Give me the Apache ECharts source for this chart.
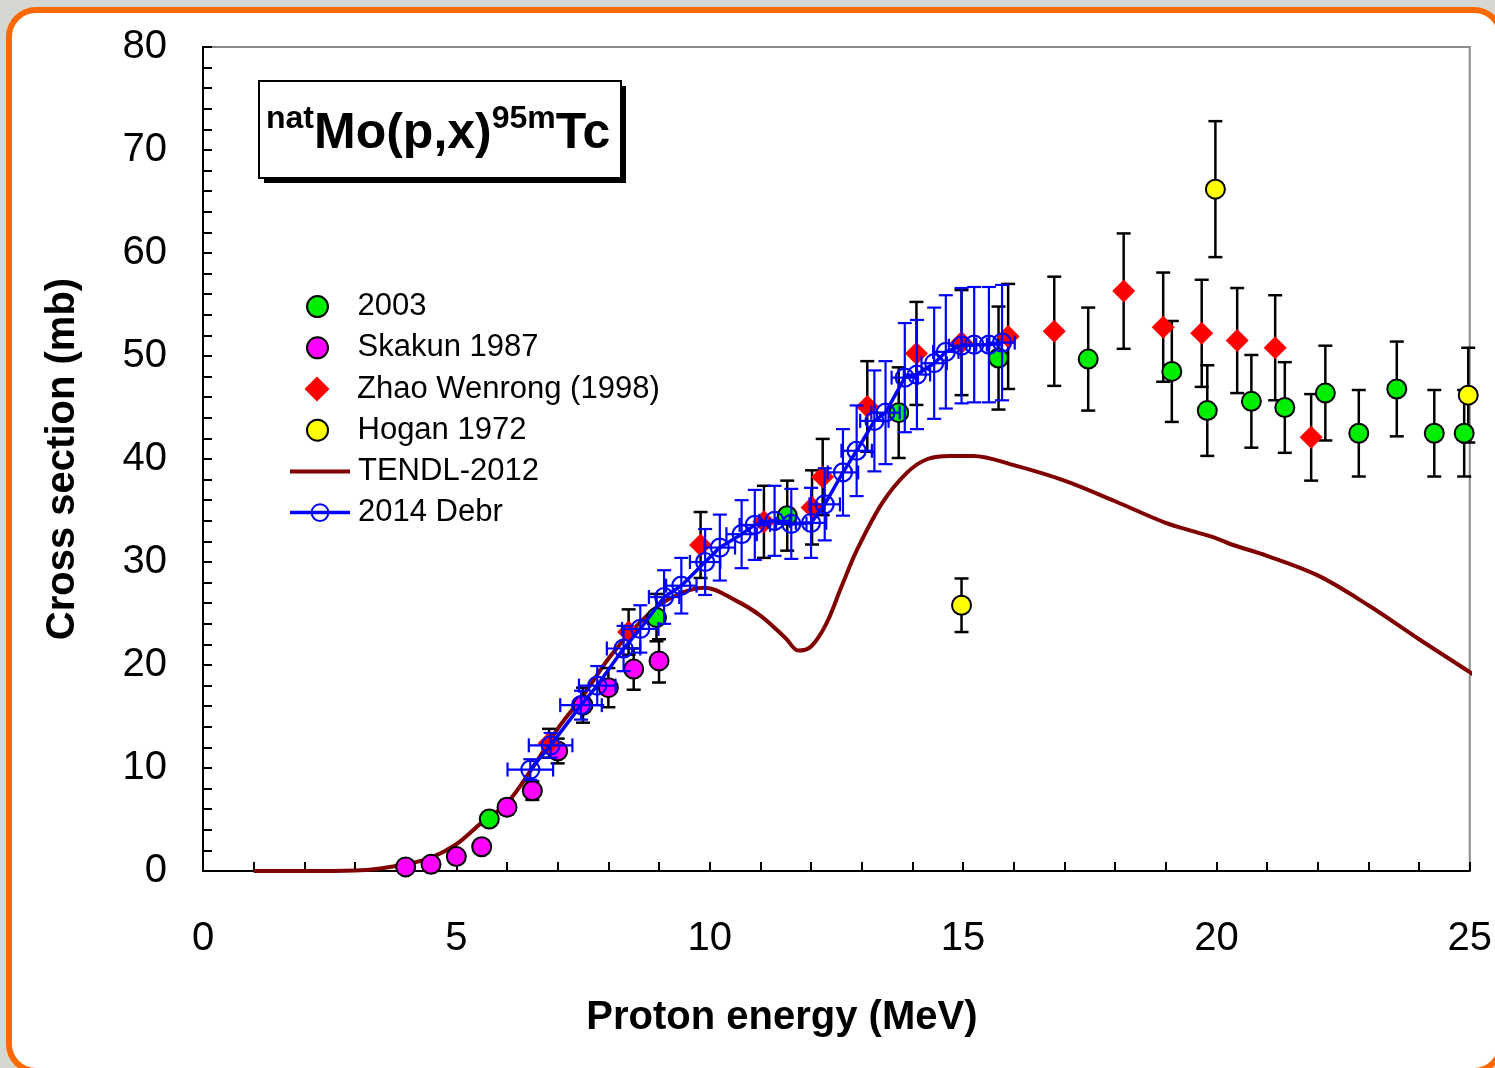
<!DOCTYPE html>
<html><head><meta charset="utf-8">
<script src="https://cdn.jsdelivr.net/npm/echarts@6/dist/echarts.min.js"></script>
<style>
html,body{margin:0;padding:0;width:1495px;height:1068px;overflow:hidden;background:#d5d7d3;}
#frame{position:absolute;left:6px;top:7px;width:1486px;height:1055px;border:6px solid #ff6a00;border-radius:30px;background:#fff;}
#chart{position:absolute;left:0;top:0;width:1495px;height:1068px;}
</style></head><body>
<div id="frame"></div><div id="chart"></div>
<script>
// ---- data ----
const energy2003 = [5.65, 8.95, 11.53, 13.73, 15.70, 17.47, 19.12, 19.82, 20.69, 21.35, 22.15, 22.81, 23.56, 24.30, 24.89];
const sigma2003  = [5.05, 24.6, 34.5, 44.5, 49.8, 49.7, 48.5, 44.7, 45.6, 45.0, 46.4, 42.5, 46.8, 42.5, 42.5];
const err2003    = [0.4, 2.3, 3.4, 4.4, 5.0, 5.0, 4.9, 4.4, 4.5, 4.4, 4.6, 4.2, 4.6, 4.2, 4.2];

const energySkakun = [4.0, 4.5, 5.0, 5.5, 6.0, 6.5, 7.0, 7.5, 8.0, 8.5, 9.0];
const sigmaSkakun  = [0.4, 0.65, 1.4, 2.35, 6.2, 7.8, 11.65, 16.1, 17.8, 19.6, 20.4];
const errSkakun    = [0.05, 0.07, 0.15, 0.25, 0.7, 0.9, 1.2, 1.7, 1.9, 2.0, 2.1];

const energyZhao = [6.83, 8.40, 9.82, 11.07, 12.02, 12.23, 13.11, 14.08, 14.97, 15.89, 16.80, 18.17, 18.95, 19.71, 20.41, 21.16, 21.87];
const sigmaZhao  = [12.4, 23.2, 31.65, 33.9, 35.3, 38.25, 45.1, 50.25, 51.3, 51.9, 52.4, 56.3, 52.8, 52.2, 51.5, 50.8, 42.1];
const errZhao    = [1.4, 2.2, 3.2, 3.5, 3.6, 3.7, 4.4, 5.0, 5.1, 5.1, 5.3, 5.6, 5.3, 5.2, 5.1, 5.1, 4.2];

const energyHogan = [14.97, 19.98, 24.97];
const sigmaHogan  = [25.8, 66.2, 46.2];
const errHogan    = [2.6, 6.6, 4.6];

const energyTendl = [1.0, 2.0, 3.0, 3.5, 4.0, 4.5, 5.0, 5.5, 6.0, 6.5, 7.0, 7.5, 8.0, 8.5, 9.0, 9.5, 9.9, 10.5, 11.0, 11.5, 11.75, 12.0, 12.3, 12.6, 12.9, 13.4, 13.9, 14.3, 14.75, 15.2, 16.0, 17.0, 18.0, 19.0, 19.6, 20.0, 20.3, 21.0, 22.0, 23.0, 24.0, 25.0, 25.25];
const sigmaTendl  = [0.0, 0.0, 0.05, 0.25, 0.65, 1.3, 2.6, 4.7, 6.6, 10.0, 13.8, 17.0, 20.6, 23.5, 25.8, 27.1, 27.5, 26.3, 24.8, 22.6, 21.4, 21.8, 24.0, 27.6, 31.1, 35.7, 38.7, 40.0, 40.3, 40.3, 39.4, 37.9, 35.9, 33.8, 32.9, 32.3, 31.7, 30.6, 28.7, 25.8, 22.5, 19.3, 18.4];

const energyDebr = [6.46, 6.86, 7.46, 7.78, 8.30, 8.63, 9.10, 9.44, 9.91, 10.20, 10.63, 10.89, 11.28, 11.61, 12.00, 12.27, 12.63, 12.90, 13.25, 13.47, 13.85, 14.09, 14.43, 14.66, 14.97, 15.22, 15.51, 15.77];
const sigmaDebr  = [9.85, 12.2, 16.1, 18.0, 21.6, 23.5, 26.6, 27.7, 30.0, 31.4, 32.7, 33.6, 34.0, 33.7, 33.8, 35.6, 38.7, 40.8, 43.7, 44.5, 47.9, 48.2, 49.3, 50.4, 51.0, 51.1, 51.1, 51.3];
const errDebr    = [1.0, 1.2, 1.4, 1.9, 2.2, 2.3, 2.6, 2.7, 3.2, 3.2, 3.3, 3.4, 3.4, 3.4, 3.4, 3.5, 4.2, 4.4, 4.9, 5.0, 5.3, 5.3, 5.4, 5.5, 5.6, 5.6, 5.6, 5.6];
const xErrDebr   = [0.45, 0.43, 0.41, 0.36, 0.33, 0.36, 0.3, 0.3, 0.3, 0.3, 0.3, 0.3, 0.3, 0.3, 0.3, 0.3, 0.3, 0.3, 0.28, 0.28, 0.26, 0.26, 0.25, 0.25, 0.25, 0.25, 0.25, 0.25];

const xTickValues = [0, 5, 10, 15, 20, 25];
const yTickValues = [0, 10, 20, 30, 40, 50, 60, 70, 80];

// ---- helpers ----
const FONT = "'Liberation Sans', Arial, sans-serif";
const pairs = (xs, ys) => xs.map((x, i) => [x, ys[i]]);
const errRows = (xs, ys, es, exs) => xs.map((x, i) => [x, ys[i], es[i], exs ? exs[i] : 0]);

function makeErrorRender(color, lw) {
  return function (params, api) {
    const x = api.value(0), y = api.value(1), ey = api.value(2), ex = api.value(3) || 0;
    const style = { stroke: color, lineWidth: lw, fill: null };
    const cap = 7;
    const hi = api.coord([x, y + ey]), lo = api.coord([x, y - ey]);
    const ch = [
      { type: 'line', shape: { x1: hi[0], y1: hi[1], x2: lo[0], y2: lo[1] }, style },
      { type: 'line', shape: { x1: hi[0] - cap, y1: hi[1], x2: hi[0] + cap, y2: hi[1] }, style },
      { type: 'line', shape: { x1: lo[0] - cap, y1: lo[1], x2: lo[0] + cap, y2: lo[1] }, style }
    ];
    if (ex > 0) {
      const l = api.coord([x - ex, y]), r = api.coord([x + ex, y]);
      ch.push(
        { type: 'line', shape: { x1: l[0], y1: l[1], x2: r[0], y2: r[1] }, style },
        { type: 'line', shape: { x1: l[0], y1: l[1] - cap, x2: l[0], y2: l[1] + cap }, style },
        { type: 'line', shape: { x1: r[0], y1: r[1] - cap, x2: r[0], y2: r[1] + cap }, style }
      );
    }
    return { type: 'group', children: ch };
  };
}
function errSeries(rows, color, lw) {
  return {
    type: 'custom', dimensions: ['x', 'y', 'ey', 'ex'], encode: { x: 'x', y: 'y' },
    data: rows, renderItem: makeErrorRender(color, lw), clip: false, silent: true, z: 2
  };
}

const chart = echarts.init(document.getElementById('chart'), null, { renderer: 'canvas' });

const axisCommon = {
  axisLine: { show: true, onZero: false, lineStyle: { color: '#000', width: 2 } },
  axisTick: { show: true, inside: true, length: 9, lineStyle: { color: '#000', width: 2 } },
  minorTick: { show: true, splitNumber: 5, length: 9, lineStyle: { color: '#000', width: 2 } },
  splitLine: { show: false },
  minorSplitLine: { show: false }
};

const legendText = { fontFamily: FONT, fontSize: 31, color: '#000', lineHeight: 41.2 };
const ROW = 41.2, LTOP = 286;

const option = {
  animation: false,
  backgroundColor: 'transparent',
  textStyle: { fontFamily: FONT },
  grid: { left: 203, top: 47, right: 20, bottom: 197, show: true, borderColor: '#8a8a8a', borderWidth: 2, backgroundColor: 'transparent' },
  xAxis: Object.assign({}, axisCommon, {
    type: 'value', min: 0, max: 25, interval: 5,
    name: 'Proton energy (MeV)', nameLocation: 'middle', nameGap: 127,
    nameTextStyle: { fontFamily: FONT, fontSize: 40, fontWeight: 'bold', color: '#000', padding: [0, 109, 0, 0] },
    axisLabel: { fontFamily: FONT, fontSize: 40, color: '#000', margin: 48,
      formatter: v => xTickValues.includes(v) ? String(v) : '' }
  }),
  yAxis: Object.assign({}, axisCommon, {
    type: 'value', min: 0, max: 80, interval: 10,
    name: 'Cross section (mb)', nameLocation: 'middle', nameGap: 120,
    nameTextStyle: { fontFamily: FONT, fontSize: 40, fontWeight: 'bold', color: '#000' },
    axisLabel: { fontFamily: FONT, fontSize: 40, color: '#000', margin: 36,
      formatter: v => yTickValues.includes(v) ? String(v) : '' }
  }),
  legend: [
    {
      orient: 'vertical', left: 306, top: LTOP, padding: 0, itemWidth: 22, itemHeight: 21, itemGap: 0,
      selectedMode: false,
      data: ['2003', 'Skakun 1987'],
      textStyle: Object.assign({ padding: [0, 0, 0, 24] }, legendText)
    },
    {
      orient: 'vertical', left: 304.5, top: LTOP + 2 * ROW, padding: 0, itemWidth: 25, itemHeight: 25, itemGap: 0,
      selectedMode: false,
      data: [{ name: 'Zhao Wenrong (1998)', icon: 'path://M11,0L22,11L11,22L0,11Z' }],
      textStyle: Object.assign({ padding: [0, 0, 0, 22.5] }, legendText)
    },
    {
      orient: 'vertical', left: 306, top: LTOP + 3 * ROW, padding: 0, itemWidth: 22, itemHeight: 21, itemGap: 0,
      selectedMode: false,
      data: ['Hogan 1972'],
      textStyle: Object.assign({ padding: [0, 0, 0, 24] }, legendText)
    },
    {
      orient: 'vertical', left: 288, top: LTOP + 4 * ROW, padding: 0, itemWidth: 60, itemHeight: 21, itemGap: 0,
      selectedMode: false,
      data: [
        { name: 'TENDL-2012', itemStyle: { color: 'rgba(0,0,0,0)', borderWidth: 0 }, lineStyle: { color: '#800000', width: 4 } },
        { name: '2014 Debr', lineStyle: { color: '#0000ff', width: 3.5 } }
      ],
      textStyle: Object.assign({ padding: [0, 0, 0, 3] }, legendText)
    }
  ],
  graphic: [
    { type: 'rect', left: 264, top: 86, shape: { width: 362, height: 97 }, style: { fill: '#000' }, z: 100 },
    { type: 'rect', left: 258, top: 80, shape: { width: 362, height: 97 }, style: { fill: '#fff', stroke: '#000', lineWidth: 2 }, z: 101 },
    { type: 'text', x: 266, y: 103, z: 102,
      style: {
        text: '{s|nat}{m|Mo(p,x)}{s|95m}{m|Tc}',
        verticalAlign: 'top', align: 'left',
        rich: {
          s: { fontFamily: FONT, fontSize: 32, fontWeight: 'bold', fill: '#000', lineHeight: 20, verticalAlign: 'top' },
          m: { fontFamily: FONT, fontSize: 50, fontWeight: 'bold', fill: '#000', lineHeight: 56, verticalAlign: 'bottom' }
        }
      }
    }
  ],
  series: [
    { name: 'TENDL-2012', type: 'line', data: pairs(energyTendl, sigmaTendl), showSymbol: false, symbol: 'none',
      smooth: 0.35, clip: false, z: 1,
      lineStyle: { color: '#800000', width: 4 }, itemStyle: { color: '#800000' } },
    errSeries(errRows(energy2003, sigma2003, err2003), '#000', 2.5),
    errSeries(errRows(energySkakun, sigmaSkakun, errSkakun), '#000', 2.5),
    errSeries(errRows(energyZhao, sigmaZhao, errZhao), '#000', 2.5),
    errSeries(errRows(energyHogan, sigmaHogan, errHogan), '#000', 2.5),
    { name: '2003', type: 'scatter', data: pairs(energy2003, sigma2003), symbol: 'circle', symbolSize: 19, z: 3,
      itemStyle: { color: '#00ee00', borderColor: '#000', borderWidth: 2, opacity: 1 } },
    { name: 'Skakun 1987', type: 'scatter', data: pairs(energySkakun, sigmaSkakun), symbol: 'circle', symbolSize: 19, z: 3,
      itemStyle: { color: '#ff00ff', borderColor: '#000', borderWidth: 2, opacity: 1 } },
    { name: 'Zhao Wenrong (1998)', type: 'scatter', data: pairs(energyZhao, sigmaZhao), symbol: 'diamond', symbolSize: 23, symbolKeepAspect: true, z: 3,
      itemStyle: { color: '#ff0000', opacity: 1 } },
    { name: 'Hogan 1972', type: 'scatter', data: pairs(energyHogan, sigmaHogan), symbol: 'circle', symbolSize: 19, z: 3, clip: false,
      itemStyle: { color: '#ffff00', borderColor: '#000', borderWidth: 2, opacity: 1 } },
    Object.assign(errSeries(errRows(energyDebr, sigmaDebr, errDebr, xErrDebr), '#0000ff', 2.2), { z: 4 }),
    { name: '2014 Debr', type: 'line', data: pairs(energyDebr, sigmaDebr), symbol: 'circle', symbolSize: 18, showSymbol: true, z: 5,
      lineStyle: { color: '#0000ff', width: 3.5 },
      itemStyle: { color: 'rgba(0,0,0,0)', borderColor: '#0000ff', borderWidth: 2.2 } }
  ]
};
chart.setOption(option);
</script></body></html>
